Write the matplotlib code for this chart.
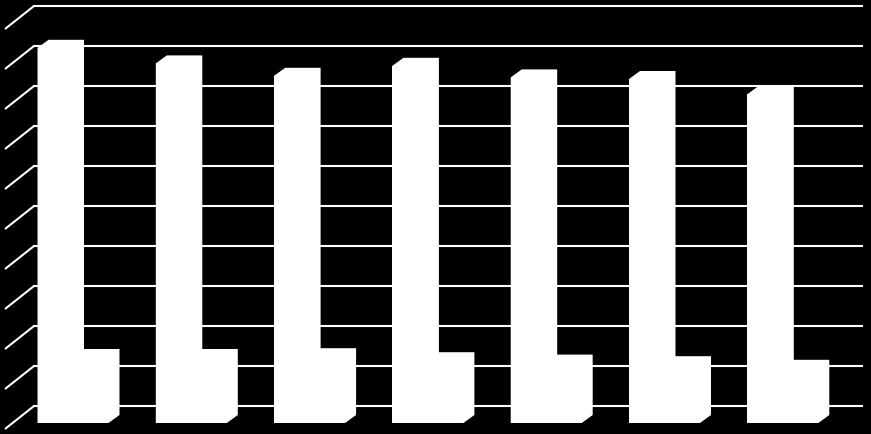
import numpy as np
import matplotlib
matplotlib.use("Agg")
import matplotlib.pyplot as plt
from matplotlib.patches import Polygon

# ---- data (gridlines every 10 units, 0..100) ----
categories = ["1", "2", "3", "4", "5", "6", "7"]
series1 = [93.8, 89.9, 86.8, 89.3, 86.4, 86.0, 82.2]
series2 = [16.5, 16.5, 16.7, 15.7, 15.1, 14.7, 13.8]
grid_ticks = list(range(0, 101, 10))

W, H = 871, 435
fig = plt.figure(figsize=(W / 100, H / 100), dpi=100, facecolor="black")

# ---- back wall with gridlines (3D look) ----
wall = fig.add_axes([0, 0, 1, 1])
wall.set_facecolor("black")
wall.set_xlim(0, 1)
wall.set_ylim(-7, 101.75)
wall.axis("off")
depth_x0, depth_x1 = 5 / W, 34 / W
depth_y = 5.75
for t in grid_ticks:
    wall.axhline(t, xmin=34 / W, xmax=862 / W, color="white", lw=1.5)
    wall.plot([depth_x0, depth_x1], [t - depth_y, t], color="white", lw=1.5,
              solid_capstyle="butt")

# ---- bars ----
ax = fig.add_axes([0, 0, 1, 1])
ax.patch.set_alpha(0)
ax.axis("off")
pitch = 118.3
ax.set_xlim(-73 / pitch, (W - 73) / pitch)
ax.set_ylim(-2.75, 106)

x = np.arange(len(categories))
w = 0.3
b1 = ax.bar(x - w / 2, series1, w, color="white", lw=0)
b2 = ax.bar(x + w / 2, series2, w, color="white", lw=0)

# 3D box outline (front + top + right side) for each bar
dx, dy = 0.093, 2.0
for rect in list(b1) + list(b2):
    x0 = rect.get_x()
    x1 = x0 + rect.get_width()
    y1 = rect.get_height()
    box = Polygon([(x0, 0), (x0, y1), (x0 + dx, y1 + dy), (x1 + dx, y1 + dy),
                   (x1 + dx, dy), (x1, 0)],
                  closed=True, facecolor="white", edgecolor="none", lw=0)
    ax.add_patch(box)

fig.savefig("out.png", dpi=100, facecolor="black")
